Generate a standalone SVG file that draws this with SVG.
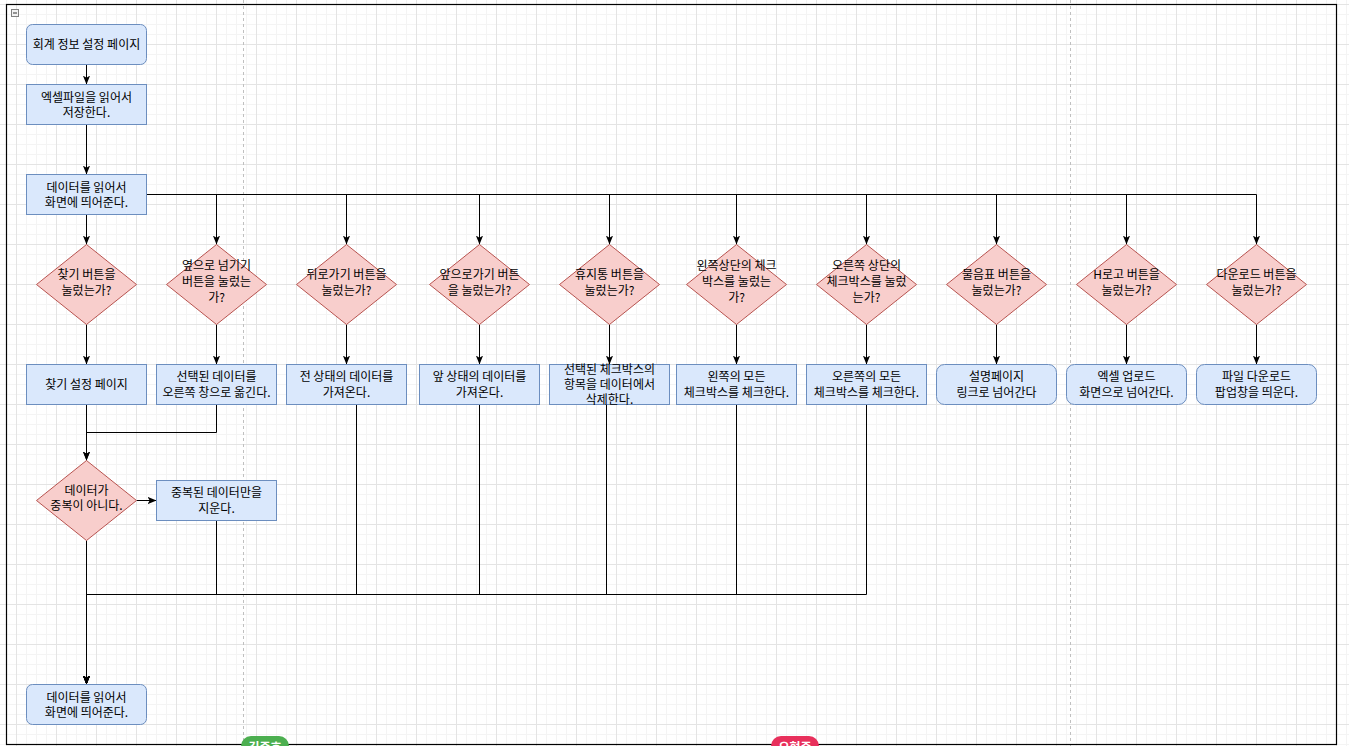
<svg xmlns="http://www.w3.org/2000/svg" width="1349" height="746" viewBox="0 0 1349 746">
<defs>
<pattern id="grid" x="16" y="4" width="40" height="40" patternUnits="userSpaceOnUse">
<path d="M10.5,0V40M20.5,0V40M30.5,0V40M0,10.5H40M0,20.5H40M0,30.5H40" stroke="#f4f4f4" stroke-width="1" fill="none"/>
<path d="M0.5,0V40M0,0.5H40" stroke="#e4e4e4" stroke-width="1" fill="none"/>
</pattern>
<marker id="arr" viewBox="0 0 10 8" refX="10" refY="4" markerWidth="9" markerHeight="7.5" markerUnits="userSpaceOnUse" orient="auto">
<path d="M0,0 L10,4 L0,8 L2.5,4 z" fill="#000"/>
</marker>
</defs>
<style>
.box{fill:#dae8fc;stroke:#6c8ebf;stroke-width:1}
.dia{fill:#f8cecc;stroke:#b85450;stroke-width:1}
.t{font-family:"Noto Sans CJK KR","Liberation Sans",sans-serif;font-size:12px;fill:#000;text-anchor:middle}
.e{fill:none;stroke:#000;stroke-width:1}
.ea{fill:none;stroke:#000;stroke-width:1;marker-end:url(#arr)}
.pg{stroke:#c0c0c0;stroke-width:1;stroke-dasharray:3 3}
.pill{font-family:"Noto Sans CJK KR","Liberation Sans",sans-serif;font-size:12px;font-weight:bold;fill:#fff;text-anchor:middle}
</style>
<rect width="1349" height="746" fill="#fff"/>
<rect width="1349" height="746" fill="url(#grid)"/>
<line class="pg" x1="243.5" y1="0" x2="243.5" y2="746"/>
<line class="pg" x1="1070.5" y1="0" x2="1070.5" y2="746"/>
<rect x="6.5" y="4.5" width="1330" height="740" fill="none" stroke="#000" stroke-width="1.2"/>
<g id="collapse">
<rect x="11.5" y="9.5" width="7" height="7" fill="#f2f2f2" stroke="#808080"/>
<line x1="13" y1="13" x2="17" y2="13" stroke="#333"/>
</g>
<g id="connectors">
<path class="ea" d="M86.5,64.5V84.5"/>
<path class="ea" d="M86.5,124.5V174.5"/>
<path class="ea" d="M86.5,214.5V244.5"/>
<path class="ea" d="M146.5,194.5H216.5V244.5"/>
<path class="ea" d="M146.5,194.5H346.5V244.5"/>
<path class="ea" d="M146.5,194.5H479.5V244.5"/>
<path class="ea" d="M146.5,194.5H609.5V244.5"/>
<path class="ea" d="M146.5,194.5H736.5V244.5"/>
<path class="ea" d="M146.5,194.5H866.5V244.5"/>
<path class="ea" d="M146.5,194.5H996.5V244.5"/>
<path class="ea" d="M146.5,194.5H1126.5V244.5"/>
<path class="ea" d="M146.5,194.5H1256.5V244.5"/>
<path class="ea" d="M86.5,324.5V364.5"/>
<path class="ea" d="M216.5,324.5V364.5"/>
<path class="ea" d="M346.5,324.5V364.5"/>
<path class="ea" d="M479.5,324.5V364.5"/>
<path class="ea" d="M609.5,324.5V364.5"/>
<path class="ea" d="M736.5,324.5V364.5"/>
<path class="ea" d="M866.5,324.5V364.5"/>
<path class="ea" d="M996.5,324.5V364.5"/>
<path class="ea" d="M1126.5,324.5V364.5"/>
<path class="ea" d="M1256.5,324.5V364.5"/>
<path class="ea" d="M86.5,404.5V460.5"/>
<path class="ea" d="M216.5,404.5V432.5H86.5V460.5"/>
<path class="ea" d="M136.5,500.5H156.5"/>
<path class="ea" d="M86.5,540.5V684.5"/>
<path class="ea" d="M216.5,520.5V594.5H86.5V684.5"/>
<path class="ea" d="M356.5,404.5V594.5H86.5V684.5"/>
<path class="ea" d="M479.5,404.5V594.5H86.5V684.5"/>
<path class="ea" d="M606.5,404.5V594.5H86.5V684.5"/>
<path class="ea" d="M736.5,404.5V594.5H86.5V684.5"/>
<path class="ea" d="M866.5,404.5V594.5H86.5V684.5"/>
</g>
<g id="n-start"><rect class="box" x="26.5" y="24.5" width="120" height="40" rx="6"/><text class="t" x="86.5" y="49">회계 정보 설정 페이지</text></g>
<g id="n-excel"><rect class="box" x="26.5" y="84.5" width="120" height="40"/><text class="t" x="86.5" y="101.5">엑셀파일을 읽어서</text><text class="t" x="86.5" y="116.5">저장한다.</text></g>
<g id="n-read"><rect class="box" x="26.5" y="174.5" width="120" height="40"/><text class="t" x="86.5" y="191.5">데이터를 읽어서</text><text class="t" x="86.5" y="206.5">화면에 띄어준다.</text></g>

<g id="d1"><path class="dia" d="M86.5,244.5L136.5,284.5L86.5,324.5L36.5,284.5Z"/><text class="t" x="86.5" y="279">찾기 버튼을</text><text class="t" x="86.5" y="294.5">눌렀는가?</text></g>
<g id="d2"><path class="dia" d="M216.5,244.5L266.5,284.5L216.5,324.5L166.5,284.5Z"/><text class="t" x="216.5" y="270">옆으로 넘기기</text><text class="t" x="216.5" y="286">버튼을 눌렀는</text><text class="t" x="216.5" y="301.5">가?</text></g>
<g id="d3"><path class="dia" d="M346.5,244.5L396.5,284.5L346.5,324.5L296.5,284.5Z"/><text class="t" x="346.5" y="279">뒤로가기 버튼을</text><text class="t" x="346.5" y="294.5">눌렀는가?</text></g>
<g id="d4"><path class="dia" d="M479.5,244.5L529.5,284.5L479.5,324.5L429.5,284.5Z"/><text class="t" x="479.5" y="279">앞으로가기 버튼</text><text class="t" x="479.5" y="294.5">을 눌렀는가?</text></g>
<g id="d5"><path class="dia" d="M609.5,244.5L659.5,284.5L609.5,324.5L559.5,284.5Z"/><text class="t" x="609.5" y="279">휴지통 버튼을</text><text class="t" x="609.5" y="294.5">눌렀는가?</text></g>
<g id="d6"><path class="dia" d="M736.5,244.5L786.5,284.5L736.5,324.5L686.5,284.5Z"/><text class="t" x="736.5" y="270">왼쪽상단의 체크</text><text class="t" x="736.5" y="286">박스를 눌렀는</text><text class="t" x="736.5" y="301.5">가?</text></g>
<g id="d7"><path class="dia" d="M866.5,244.5L916.5,284.5L866.5,324.5L816.5,284.5Z"/><text class="t" x="866.5" y="270">오른쪽 상단의</text><text class="t" x="866.5" y="286">체크박스를 눌렀</text><text class="t" x="866.5" y="301.5">는가?</text></g>
<g id="d8"><path class="dia" d="M996.5,244.5L1046.5,284.5L996.5,324.5L946.5,284.5Z"/><text class="t" x="996.5" y="279">물음표 버튼을</text><text class="t" x="996.5" y="294.5">눌렀는가?</text></g>
<g id="d9"><path class="dia" d="M1126.5,244.5L1176.5,284.5L1126.5,324.5L1076.5,284.5Z"/><text class="t" x="1126.5" y="279">H로고 버튼을</text><text class="t" x="1126.5" y="294.5">눌렀는가?</text></g>
<g id="d10"><path class="dia" d="M1256.5,244.5L1306.5,284.5L1256.5,324.5L1206.5,284.5Z"/><text class="t" x="1256.5" y="279">다운로드 버튼을</text><text class="t" x="1256.5" y="294.5">눌렀는가?</text></g>

<g id="b1"><rect class="box" x="26.5" y="364.5" width="120" height="40"/><text class="t" x="86.5" y="388.5">찾기 설정 페이지</text></g>
<g id="b2"><rect class="box" x="156.5" y="364.5" width="120" height="40"/><text class="t" x="216.5" y="380.5">선택된 데이터를</text><text class="t" x="216.5" y="396.5">오른쪽 창으로 옮긴다.</text></g>
<g id="b3"><rect class="box" x="286.5" y="364.5" width="120" height="40"/><text class="t" x="346.5" y="380.5">전 상태의 데이터를</text><text class="t" x="346.5" y="396.5">가져온다.</text></g>
<g id="b4"><rect class="box" x="419.5" y="364.5" width="120" height="40"/><text class="t" x="479.5" y="380.5">앞 상태의 데이터를</text><text class="t" x="479.5" y="396.5">가져온다.</text></g>
<g id="b5"><rect class="box" x="549.5" y="364.5" width="120" height="40"/><text class="t" x="609.5" y="373.5">선택된 체크박스의</text><text class="t" x="609.5" y="388.5">항목을 데이터에서</text><text class="t" x="609.5" y="403.5">삭제한다.</text></g>
<g id="b6"><rect class="box" x="676.5" y="364.5" width="120" height="40"/><text class="t" x="736.5" y="380.5">왼쪽의 모든</text><text class="t" x="736.5" y="396.5">체크박스를 체크한다.</text></g>
<g id="b7"><rect class="box" x="806.5" y="364.5" width="120" height="40"/><text class="t" x="866.5" y="380.5">오른쪽의 모든</text><text class="t" x="866.5" y="396.5">체크박스를 체크한다.</text></g>
<g id="b8"><rect class="box" x="936.5" y="364.5" width="120" height="40" rx="8"/><text class="t" x="996.5" y="380.5">설명페이지</text><text class="t" x="996.5" y="396.5">링크로 넘어간다</text></g>
<g id="b9"><rect class="box" x="1066.5" y="364.5" width="120" height="40" rx="8"/><text class="t" x="1126.5" y="380.5">엑셀 업로드</text><text class="t" x="1126.5" y="396.5">화면으로 넘어간다.</text></g>
<g id="b10"><rect class="box" x="1196.5" y="364.5" width="120" height="40" rx="8"/><text class="t" x="1256.5" y="380.5">파일 다운로드</text><text class="t" x="1256.5" y="396.5">팝업창을 띄운다.</text></g>

<g id="d-dup"><path class="dia" d="M86.5,460.5L136.5,500.5L86.5,540.5L36.5,500.5Z"/><text class="t" x="86.5" y="494.5">데이터가</text><text class="t" x="86.5" y="510">중복이 아니다.</text></g>
<g id="b-dup"><rect class="box" x="156.5" y="480.5" width="120" height="40"/><text class="t" x="216.5" y="497">중복된 데이터만을</text><text class="t" x="216.5" y="512.5">지운다.</text></g>
<g id="n-end"><rect class="box" x="26.5" y="684.5" width="120" height="40" rx="6"/><text class="t" x="86.5" y="701.5">데이터를 읽어서</text><text class="t" x="86.5" y="716.5">화면에 띄어준다.</text></g>

<g id="users">
<rect x="241" y="736" width="48" height="22" rx="10" fill="#4caf50"/>
<text class="pill" x="265" y="752">김준호</text>
<rect x="771" y="736" width="48" height="22" rx="10" fill="#e8305c"/>
<text class="pill" x="795" y="752">오형준</text>
</g>
</svg>
